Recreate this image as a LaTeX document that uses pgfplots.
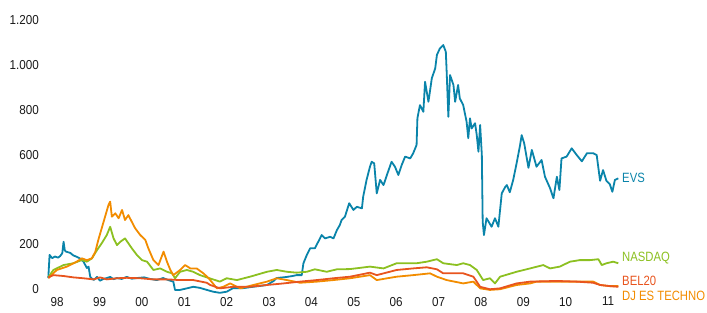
\documentclass[border=0pt]{standalone}
\usepackage{fontspec}
\setmainfont{Liberation Sans}[FakeStretch=0.9]
\newfontfamily\lblfont{Liberation Sans}[FakeStretch=0.84]
\usepackage{pgfplots}
\pgfplotsset{compat=1.18}
\definecolor{evs}{HTML}{0A84AA}
\definecolor{nasdaq}{HTML}{8CC021}
\definecolor{djes}{HTML}{F28C00}
\definecolor{bel}{HTML}{E8541E}
\begin{document}
\begin{tikzpicture}
\useasboundingbox (-48.3bp,-19.5bp) rectangle (658.7bp,293.5bp);
\begin{axis}[
  scale only axis, width=570bp, height=273.3bp,
  xmin=1997.79, xmax=2011.24, ymin=-20, ymax=1200,
  axis line style={draw=none}, major tick style={draw=none},
  xtick={1998,...,2011},
  xticklabels={98,99,00,01,02,03,04,05,06,07,08,09,10,11},
  ytick={0,200,...,1200},
  /pgf/number format/1000 sep={.},
  /pgf/number format/assume math mode=true,
  tick label style={font=\fontsize{13}{15}\selectfont, text=black!90},
  yticklabel style={xshift=-6bp},
  clip=false,
  every axis plot/.append style={line width=1.8bp, line join=round},
]
\addplot[evs] coordinates {
(1997.79,49) (1997.82,152) (1997.88,138) (1997.95,145) (1998.02,140) (1998.07,147) (1998.12,160)
(1998.15,211) (1998.18,172) (1998.21,167) (1998.31,161) (1998.38,150)
(1998.46,144) (1998.55,135) (1998.62,122) (1998.70,94) (1998.74,100) (1998.78,54) (1998.86,40) (1998.94,54) (1999.01,37)
(1999.09,45) (1999.17,49) (1999.25,54) (1999.33,44) (1999.41,49) (1999.52,45) (1999.64,54) (1999.76,46) (1999.88,49) (2000.05,52) (2000.19,45) (2000.35,40) (2000.50,49)
(2000.62,40) (2000.74,33) (2000.78,-4) (2000.90,-4) (2001.06,3) (2001.21,10) (2001.37,5) (2001.53,-4)
(2001.68,-12) (2001.84,-17) (2002.00,-12) (2002.15,4) (2002.39,4) (2002.62,10) (2002.80,14) (2002.95,18)
(2003.10,35) (2003.18,49) (2003.42,54) (2003.55,58) (2003.65,62) (2003.77,62) (2003.81,115) (2003.89,152) (2003.97,182)
(2004.08,182) (2004.16,211) (2004.24,241) (2004.32,226) (2004.44,233) (2004.52,226) (2004.60,263) (2004.67,286)
(2004.71,308) (2004.79,323) (2004.89,383) (2004.99,353) (2005.07,367) (2005.19,360) (2005.22,412) (2005.30,487)
(2005.38,546) (2005.42,568) (2005.48,561) (2005.54,427) (2005.62,487) (2005.70,464) (2005.78,509) (2005.89,568)
(2005.97,546) (2006.05,509) (2006.13,554) (2006.21,591) (2006.33,583) (2006.40,606) (2006.48,643) (2006.50,763)
(2006.56,821) (2006.64,791) (2006.68,925) (2006.76,836) (2006.84,941) (2006.92,985) (2006.96,1045) (2007.03,1074)
(2007.11,1089) (2007.17,1059) (2007.19,970) (2007.23,769) (2007.27,955) (2007.35,911) (2007.39,836) (2007.46,911)
(2007.50,851) (2007.58,821) (2007.66,747) (2007.70,673) (2007.74,762) (2007.78,717) (2007.86,740) (2007.90,687)
(2007.94,613) (2007.98,732) (2008.02,598) (2008.04,300) (2008.07,241) (2008.13,316) (2008.25,278) (2008.33,316)
(2008.41,278) (2008.49,427) (2008.57,455) (2008.61,464) (2008.68,432) (2008.76,487) (2008.84,561) (2008.92,640) (2008.96,687)
(2009.02,650) (2009.12,541) (2009.20,621) (2009.31,546) (2009.43,576) (2009.51,501) (2009.63,450) (2009.71,405) (2009.79,501)
(2009.85,442) (2009.90,583) (2010.02,591) (2010.14,628) (2010.26,598) (2010.38,570) (2010.50,606) (2010.65,606) (2010.73,598)
(2010.81,483) (2010.88,531) (2010.96,483) (2011.04,468) (2011.10,434) (2011.16,487) (2011.24,494)
};
\addplot[nasdaq] coordinates {
(1997.79,52) (1997.91,85) (1998.15,107) (1998.38,115) (1998.58,129) (1998.70,122) (1998.82,137)
(1998.94,174) (1999.05,204) (1999.17,241) (1999.25,278) (1999.33,226) (1999.41,196) (1999.49,211)
(1999.60,226) (1999.68,204) (1999.76,182) (1999.88,152) (2000.00,129) (2000.12,122) (2000.27,85)
(2000.43,92) (2000.59,77) (2000.71,70) (2000.78,48) (2000.90,77) (2001.06,85) (2001.21,77)
(2001.37,62) (2001.53,52) (2001.84,33) (2002.00,48) (2002.24,40) (2002.55,55) (2002.95,77)
(2003.18,85) (2003.42,77) (2003.65,73) (2003.89,77) (2004.08,88) (2004.36,77) (2004.60,88)
(2004.91,89) (2005.38,100) (2005.70,92) (2006.01,115) (2006.48,115) (2006.72,122) (2006.96,133)
(2007.11,115) (2007.43,107) (2007.58,115) (2007.74,107) (2007.90,85) (2008.05,40) (2008.21,48)
(2008.33,25) (2008.45,55) (2008.84,77) (2009.16,92) (2009.47,107) (2009.63,92) (2009.86,100)
(2010.10,122) (2010.33,129) (2010.57,129) (2010.77,133) (2010.85,107) (2010.96,115) (2011.12,122)
(2011.24,115)
};
\addplot[djes] coordinates {
(1997.79,48) (1997.99,85) (1998.23,100) (1998.46,122) (1998.58,137) (1998.70,129) (1998.82,137)
(1998.90,167) (1998.97,219) (1999.05,271) (1999.13,323) (1999.21,375) (1999.25,390) (1999.29,323)
(1999.37,338) (1999.45,316) (1999.53,353) (1999.60,308) (1999.68,330) (1999.76,300) (1999.84,271)
(1999.96,241) (2000.08,219) (2000.15,182) (2000.27,129) (2000.39,107) (2000.51,167) (2000.59,122)
(2000.67,85) (2000.74,62) (2000.90,85) (2001.02,107) (2001.14,92) (2001.29,92) (2001.45,70)
(2001.57,49) (2001.77,3) (2001.92,10) (2002.08,25) (2002.32,3) (2002.63,18) (2002.95,33)
(2003.18,48) (2003.42,40) (2003.73,28) (2004.13,33) (2004.52,40) (2004.91,48) (2005.38,62)
(2005.54,40) (2006.01,55) (2006.40,62) (2006.80,70) (2006.96,55) (2007.19,40) (2007.58,25)
(2007.82,33) (2007.98,3) (2008.21,-4) (2008.45,-1) (2008.84,18) (2009.16,25) (2009.31,33)
(2009.79,33) (2010.26,33) (2010.65,33) (2010.81,18) (2011.04,13) (2011.24,13)
};
\addplot[bel] coordinates {
(1997.79,52) (1997.91,62) (1998.15,58) (1998.38,52) (1998.62,48) (1998.86,43) (1999.01,52)
(1999.17,43) (1999.41,48) (1999.64,50) (1999.96,48) (2000.27,43) (2000.59,43) (2000.90,40)
(2001.21,40) (2001.53,28) (2001.61,18) (2001.84,3) (2002.16,10) (2002.55,10) (2002.95,18)
(2003.34,25) (2003.73,33) (2004.13,40) (2004.52,48) (2004.91,55) (2005.38,73) (2005.54,62)
(2006.01,85) (2006.40,92) (2006.72,97) (2006.96,88) (2007.11,70) (2007.58,70) (2007.82,55)
(2007.98,10) (2008.21,-1) (2008.45,3) (2008.84,25) (2009.16,33) (2009.79,36) (2010.26,33)
(2010.65,28) (2010.81,18) (2011.04,13) (2011.24,10)
};
\begin{scope}[every node/.style={anchor=west, font=\lblfont\fontsize{13.5}{15}\selectfont}]
\node[text=evs] at (axis cs:2011.25,495) {EVS};
\node[text=nasdaq] at (axis cs:2011.25,138) {NASDAQ};
\node[text=bel] at (axis cs:2011.25,36) {BEL20};
\node[text=djes] at (axis cs:2011.25,-31) {DJ ES TECHNO};
\end{scope}
\end{axis}
\end{tikzpicture}
\end{document}
